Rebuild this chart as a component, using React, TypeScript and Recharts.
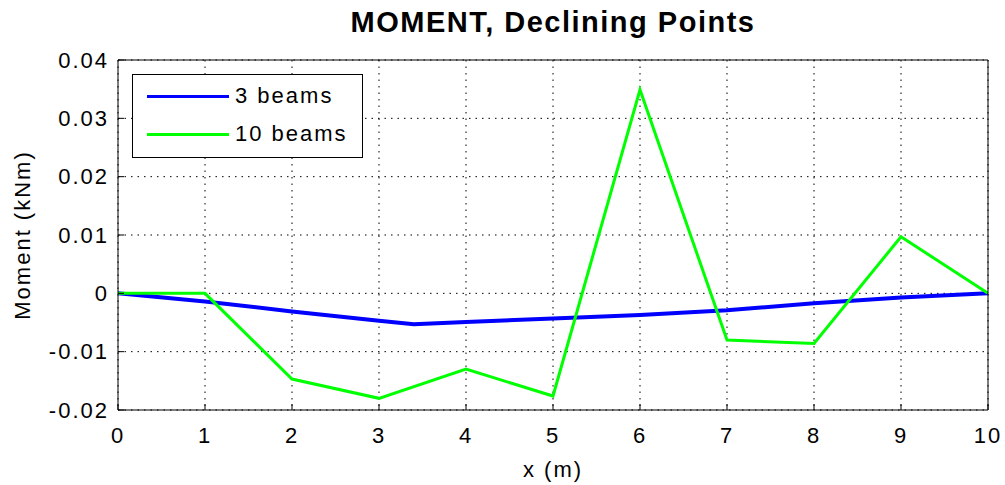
import { LineChart, Line, XAxis, YAxis, CartesianGrid, Label } from 'recharts';

const xTicks = [0, 1, 2, 3, 4, 5, 6, 7, 8, 9, 10];
const yTicks = [-0.02, -0.01, 0, 0.01, 0.02, 0.03, 0.04];

const beams3X = [0, 1, 2, 3, 3.4, 4, 5, 6, 7, 8, 9, 10];
const beams3Y = [0, -0.0014, -0.0031, -0.0047, -0.0053, -0.0049, -0.0043, -0.0037, -0.0029, -0.0017, -0.0007, 0];

const beams10X = [0, 1, 2, 3, 4, 5, 6, 7, 8, 9, 10];
const beams10Y = [0, 0, -0.0147, -0.018, -0.013, -0.0176, 0.0349, -0.008, -0.0086, 0.0097, 0];

const data3 = beams3X.map((x, i) => ({ x, m: beams3Y[i] }));
const data10 = beams10X.map((x, i) => ({ x, m: beams10Y[i] }));

const series = [
  { name: '3 beams', color: '#0000ff', width: 4, data: data3 },
  { name: '10 beams', color: '#00ff00', width: 3, data: data10 },
];

const FONT = 'Arial, "Liberation Sans", sans-serif';
const textStyle = { fontSize: 22, fill: '#000', fontFamily: FONT, letterSpacing: 2 };

const fmt = (v: number) => (v === 0 ? '0' : v.toFixed(2));

function LegendBox() {
  return (
    <div
      style={{
        position: 'absolute',
        left: 132,
        top: 74,
        width: 231,
        height: 84,
        border: '1.5px solid #000',
        background: '#fff',
        fontFamily: FONT,
        fontSize: 22,
        letterSpacing: 2,
        boxSizing: 'border-box',
      }}
    >
      {series.map((s, i) => (
        <div
          key={s.name}
          style={{ position: 'absolute', left: 14, top: 21 + i * 38 - 14, height: 28, display: 'flex', alignItems: 'center' }}
        >
          <div style={{ width: 82, height: 3, background: s.color, marginRight: 6 }} />
          <span>{s.name}</span>
        </div>
      ))}
    </div>
  );
}

export default function App() {
  return (
    <div style={{ position: 'absolute', left: 0, top: 0, width: 1005, height: 485, background: '#fff' }}>
      <LineChart width={1005} height={485} margin={{ top: 59, right: 16, bottom: 0, left: 0 }}>
        <CartesianGrid stroke="#000" strokeDasharray="1.5 5" />
        <XAxis
          dataKey="x"
          type="number"
          domain={[0, 10]}
          ticks={xTicks}
          allowDataOverflow
          height={75}
          tick={textStyle}
          tickSize={-6}
          tickMargin={23}
          stroke="#000"
        >
          <Label value="x (m)" position="insideBottom" offset={8} style={textStyle} />
        </XAxis>
        <XAxis xAxisId="top" orientation="top" type="number" domain={[0, 10]} ticks={xTicks} height={1} tick={false} tickSize={-6} stroke="#000" />
        <YAxis
          type="number"
          domain={[-0.02, 0.04]}
          ticks={yTicks}
          allowDataOverflow
          width={118}
          tick={textStyle}
          tickFormatter={fmt}
          tickSize={-6}
          tickMargin={15}
          stroke="#000"
        >
          <Label value="Moment (kNm)" angle={-90} position="insideLeft" offset={22} style={{ ...textStyle, textAnchor: 'middle' }} />
        </YAxis>
        <YAxis yAxisId="right" orientation="right" type="number" domain={[-0.02, 0.04]} ticks={yTicks} width={1} tick={false} tickSize={-6} stroke="#000" />
        {series.map((s) => (
          <Line
            key={s.name}
            data={s.data}
            dataKey="m"
            name={s.name}
            stroke={s.color}
            strokeWidth={s.width}
            dot={false}
            isAnimationActive={false}
          />
        ))}
      </LineChart>
      <div
        style={{
          position: 'absolute',
          left: 118,
          width: 870,
          top: 8,
          lineHeight: '29px',
          textAlign: 'center',
          fontFamily: FONT,
          fontWeight: 'bold',
          fontSize: 29,
          letterSpacing: 1.5,
        }}
      >
        MOMENT, Declining Points
      </div>
      <LegendBox />
    </div>
  );
}
